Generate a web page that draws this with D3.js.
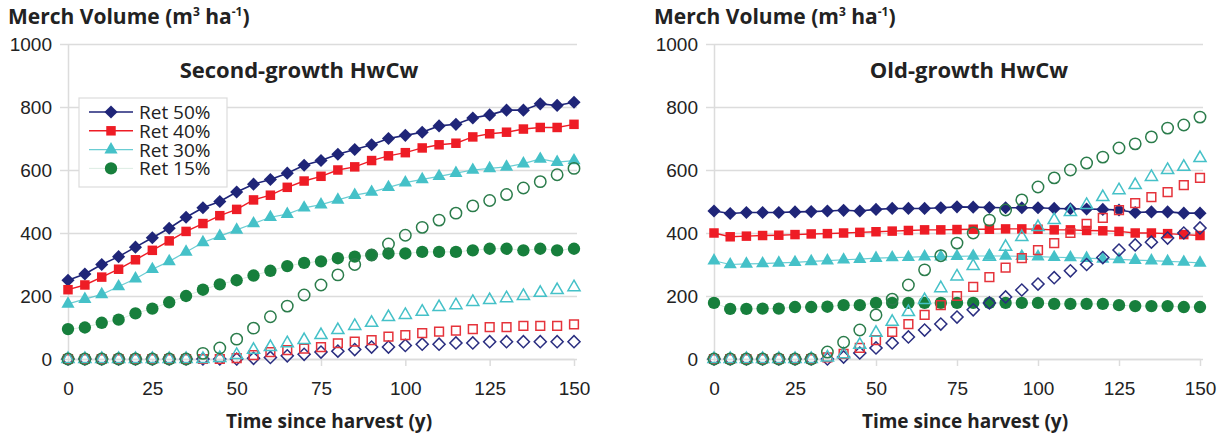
<!DOCTYPE html>
<html>
<head>
<meta charset="utf-8">
<script src="https://cdn.jsdelivr.net/npm/d3@7"></script>
<style>
  body { margin: 0; background: #fff; }
  svg { font-family: "Open Sans", "DejaVu Sans", sans-serif; }
  .tick text { fill: #222; font-size: 19px; }
  .axis-title { font-weight: bold; fill: #222; }
</style>
</head>
<body>
<svg id="svg"></svg>
<script>
/* stand volume after harvest, two stand types, four retention levels */

const years = [0,5,10,15,20,25,30,35,40,45,50,55,60,65,70,75,80,85,90,95,100,105,110,115,120,125,130,135,140,145,150];
const seriesNames = ["Ret 50%", "Ret 40%", "Ret 30%", "Ret 15%"];
const yTicks = [0, 200, 400, 600, 800, 1000];
const xTicks = [0, 25, 50, 75, 100, 125, 150];

// second-growth, retained trees (filled) and regen (open)
const sgRet50 = [250,270,300,325,355,385,415,450,480,500,530,555,570,590,615,630,650,665,680,700,710,720,740,745,765,775,790,790,810,805,815];
const sgRet40 = [220,235,260,285,315,345,375,405,430,455,475,505,520,545,565,580,600,610,630,645,655,670,680,685,705,715,720,730,735,735,745];
const sgRet30 = [175,190,205,230,255,285,310,340,370,390,410,430,450,460,480,490,505,520,530,545,560,570,580,590,600,605,610,620,635,625,630];
const sgRet15 = [95,100,115,125,145,160,180,200,220,237,250,265,280,295,305,310,320,325,330,335,335,340,340,340,345,350,350,345,350,345,350];
const sgOpen50 = [0,0,0,0,0,0,0,0,0,0,0,2,5,10,15,22,25,30,38,38,43,47,47,51,51,55,55,55,55,55,55];
const sgOpen40 = [0,0,0,0,0,0,0,0,0,0,3,12,22,28,33,38,50,55,60,71,76,82,87,90,95,101,101,105,105,105,110];
const sgOpen30 = [0,0,0,0,0,0,0,0,0,3,13,29,38,50,60,76,92,105,115,133,140,150,165,171,181,187,193,200,210,219,228];
const sgOpen15 = [0,0,0,0,0,0,0,0,18,35,63,98,134,168,203,235,267,300,330,365,393,418,441,463,486,503,522,543,563,585,605];

// old-growth
const ogRet50 = [470,462,465,465,465,467,468,470,472,470,475,478,478,478,480,483,482,481,480,480,480,478,477,476,475,473,465,467,467,463,463];
const ogRet40 = [400,388,390,392,393,395,397,398,400,402,404,406,408,410,410,411,412,412,413,413,412,410,410,408,407,405,400,400,398,395,392];
const ogRet30 = [312,300,302,303,305,307,310,312,315,317,320,322,323,325,325,326,327,327,327,326,325,323,322,320,318,316,314,312,310,308,305];
const ogRet15 = [178,159,159,160,160,165,165,166,171,171,178,178,178,178,178,178,178,178,178,178,178,175,175,175,175,171,168,168,168,165,165];
const ogOpen50 = [0,0,0,0,0,0,0,0,6,19,35,51,70,92,111,133,156,178,197,219,238,258,280,300,322,346,362,371,384,400,416];
const ogOpen40 = [0,0,0,0,0,0,0,5,16,35,60,86,111,140,171,200,229,260,290,320,346,368,400,429,448,473,495,514,530,552,575];
const ogOpen30 = [0,0,0,0,0,0,0,5,15,45,83,118,149,187,225,262,295,325,356,387,419,441,467,489,514,536,552,578,600,610,638];
const ogOpen15 = [0,0,0,0,0,0,0,22,53,92,140,190,235,283,328,368,400,441,473,505,546,575,600,622,641,670,683,705,733,743,768];

const styles = [
  { color: "#1f2578", open: "#2a2e80", shape: "diamond", size: 86, lineW: 1.6, lineOp: 1 },
  { color: "#ee1c25", open: "#e5333b", shape: "square",  size: 90, lineW: 1.4, lineOp: 1 },
  { color: "#45c1c8", open: "#45c1c8", shape: "triangle", size: 75, lineW: 1.2, lineOp: 0.8 },
  { color: "#177f3c", open: "#2b7c4b", shape: "circle",  size: 120, lineW: 1, lineOp: 0.15 }
];

function symbolPath(shape, size) {
  if (shape == "diamond") return d3.symbol(d3.symbolSquare, size)();
  if (shape == "square") return d3.symbol(d3.symbolSquare, size)();
  if (shape == "triangle") return d3.symbol(d3.symbolTriangle, size)();
  return d3.symbol(d3.symbolCircle, size)();
}

function drawMarker(g, st, x, y, filled, scale) {
  let s = scale || 1;
  let p = g.append("path")
    .attr("d", symbolPath(st.shape, st.size * s))
    .attr("transform", `translate(${x},${y})` + (st.shape == "diamond" ? " rotate(45)" : ""));
  if (filled) p.attr("fill", st.color);
  else p.attr("fill", "none").attr("stroke", st.open).attr("stroke-width", 1.5);
}

function createPanel(svg, cfg) {
  let x = d3.scaleLinear().domain([0, 150]).range([cfg.x0, cfg.x1]);
  let y = d3.scaleLinear().domain([0, 1000]).range([359, 44]);
  let g = svg.append("g");

  // gridlines
  g.append("g")
    .attr("transform", `translate(${cfg.x0},0)`)
    .call(d3.axisLeft(y).tickValues(yTicks).tickSize(-(cfg.x1 - cfg.x0 + 3)).tickFormat(""))
    .call(a => a.select(".domain").remove())
    .call(a => a.selectAll("line").attr("stroke", "#dcdcdc").attr("stroke-width", 1.5));

  // y axis
  g.append("g")
    .attr("transform", `translate(${cfg.x0},0)`)
    .call(d3.axisLeft(y).tickValues(yTicks).tickFormat(d3.format("d"))
      .tickSize(8).tickSizeOuter(0).tickPadding(8))
    .call(a => a.select(".domain").attr("stroke", "#dcdcdc").attr("stroke-width", 1.5))
    .call(a => a.selectAll("line").attr("stroke", "#dcdcdc").attr("stroke-width", 1.5));

  // x axis
  g.append("g")
    .attr("transform", "translate(0,359)")
    .call(d3.axisBottom(x).tickValues(xTicks).tickSize(7).tickSizeOuter(0).tickPadding(16))
    .call(a => a.select(".domain").attr("stroke", "#dcdcdc").attr("stroke-width", 1.5))
    .call(a => a.selectAll("line").attr("stroke", "#dcdcdc").attr("stroke-width", 1.5));

  // titles
  let yt = g.append("text").attr("class", "axis-title")
    .attr("x", cfg.x0 - 60).attr("y", 24).style("font-size", "21px");
  yt.append("tspan").text("Merch Volume (m");
  yt.append("tspan").text("3").style("font-size", "12px").attr("dy", -8);
  yt.append("tspan").text(" ha").style("font-size", "21px").attr("dy", 8);
  yt.append("tspan").text("-1").style("font-size", "12px").attr("dy", -8);
  yt.append("tspan").text(")").style("font-size", "21px").attr("dy", 8);

  g.append("text").attr("class", "axis-title")
    .attr("x", (cfg.x0 + cfg.x1) / 2 + 8).attr("y", 428)
    .attr("text-anchor", "middle").style("font-size", "19px")
    .text("Time since harvest (y)");

  g.append("text").attr("class", "axis-title")
    .attr("x", cfg.titleX).attr("y", 78)
    .attr("text-anchor", "middle").style("font-size", "22px")
    .text(cfg.title);

  // filled series with lines
  let line = d3.line().x((d, i) => x(years[i])).y(d => y(d));
  cfg.filled.forEach((vals, k) => {
    let st = styles[k];
    g.append("path").datum(vals)
      .attr("d", line).attr("fill", "none")
      .attr("stroke", st.color).attr("stroke-width", st.lineW).attr("stroke-opacity", st.lineOp);
    let mg = g.append("g");
    vals.forEach((v, i) => drawMarker(mg, st, x(years[i]), y(v), true));
  });

  // open series (markers only)
  cfg.open.forEach((vals, k) => {
    let st = styles[k];
    let mg = g.append("g");
    vals.forEach((v, i) => drawMarker(mg, st, x(years[i]), y(v), false, 0.85));
  });
}

function createLegend(svg) {
  let g = svg.append("g");
  g.append("rect").attr("x", 79).attr("y", 98).attr("width", 148).attr("height", 89)
    .attr("fill", "#fff").attr("stroke", "#dcdcdc").attr("stroke-width", 1.2);
  seriesNames.forEach((name, k) => {
    let st = styles[k];
    let yy = 112 + k * 18.8;
    g.append("line").attr("x1", 89).attr("x2", 133).attr("y1", yy).attr("y2", yy)
      .attr("stroke", st.color).attr("stroke-width", st.lineW).attr("stroke-opacity", st.lineOp);
    drawMarker(g, st, 111, yy, true);
    g.append("text").attr("x", 139).attr("y", yy + 7)
      .style("font-size", "19px").attr("fill", "#222").text(name);
  });
}

function createVisualization() {
  let w = 1229, h = 438;
  let svg = d3.select("#svg").attr("width", w).attr("height", h);

  createPanel(svg, {
    x0: 68, x1: 574, title: "Second-growth HwCw", titleX: 299,
    filled: [sgRet50, sgRet40, sgRet30, sgRet15],
    open: [sgOpen50, sgOpen40, sgOpen30, sgOpen15]
  });
  createPanel(svg, {
    x0: 714, x1: 1200, title: "Old-growth HwCw", titleX: 969,
    filled: [ogRet50, ogRet40, ogRet30, ogRet15],
    open: [ogOpen50, ogOpen40, ogOpen30, ogOpen15]
  });
  createLegend(svg);
}

window.onload = createVisualization;
</script>
</body>
</html>
